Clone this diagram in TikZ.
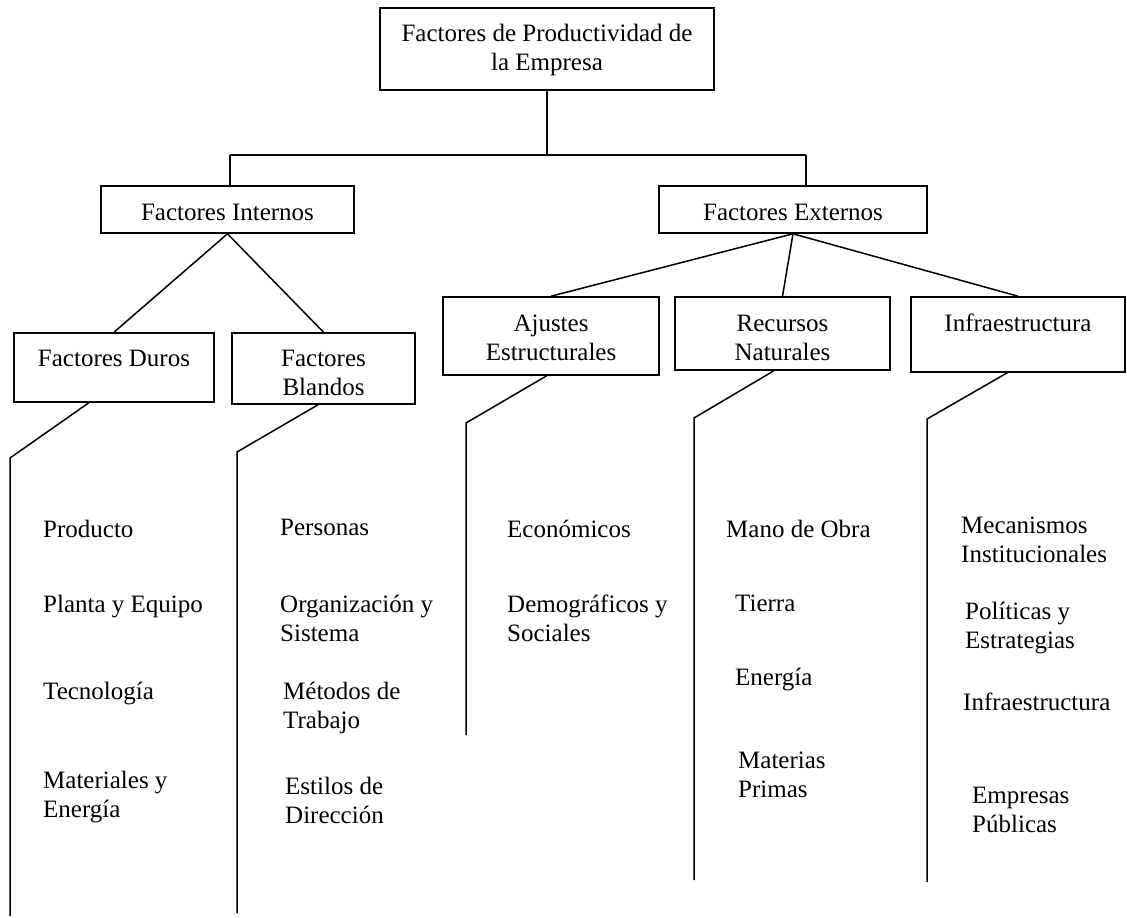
\documentclass[tikz,border=0pt]{standalone}
\usepackage{fontspec}
\setmainfont{Liberation Serif}
\usetikzlibrary{calc}
\newcommand{\dgfont}{\fontsize{25}{29}\selectfont}
\newcommand{\bxt}[1]{\begin{tabular}[t]{@{}c@{}}#1\end{tabular}}
\begin{document}
\begin{tikzpicture}[x=1pt,y=-1pt,
  box/.style={draw, line width=1.6pt, inner sep=0pt, align=center, font=\dgfont},
  item/.style={anchor=west, align=left, inner sep=0pt, font=\dgfont},
  conn/.style={line width=1.5pt}]
\useasboundingbox (0,0) rectangle (1127,918);
% boxes
\node[box, minimum width=334pt, text height=33pt, text depth=49pt] (top) at (547,49) {\bxt{Factores de Productividad de\\la Empresa}};
\node[box, minimum width=253pt, text height=34pt, text depth=13pt] (fi) at (227.5,209.5) {\bxt{Factores Internos}};
\node[box, minimum width=268pt, text height=34pt, text depth=13pt] (fe) at (793,209.5) {\bxt{Factores Externos}};
\node[box, minimum width=200pt, text height=33pt, text depth=36pt] (fd) at (114,367.5) {\bxt{Factores Duros}};
\node[box, minimum width=183pt, text height=33pt, text depth=38pt] (fb) at (323.5,368.5) {\bxt{Factores\\Blandos}};
\node[box, minimum width=216pt, text height=34pt, text depth=44pt] (ae) at (551,336) {\bxt{Ajustes\\Estructurales}};
\node[box, minimum width=215pt, text height=34pt, text depth=39pt] (rn) at (782.5,333.5) {\bxt{Recursos\\Naturales}};
\node[box, minimum width=214pt, text height=34pt, text depth=41pt] (inf) at (1018,334.5) {\bxt{Infraestructura}};
% upper connectors
\coordinate (jl) at (230,155);
\coordinate (jr) at (806,155);
\coordinate (jm) at (top.south |- jl);
\draw[conn] (top.south) -- (jm);
\draw[conn] (jl) -- (jr);
\draw[conn] (jl) -- (jl |- fi.north);
\draw[conn] (jr) -- (jr |- fe.north);
\draw[conn] (fi.south) -- (fd.north);
\draw[conn] (fi.south) -- (fb.north);
\draw[conn] (fe.south) -- (ae.north);
\draw[conn] (fe.south) -- (rn.north);
\draw[conn] (fe.south) -- (inf.north);
% lower connectors
\coordinate (fdk) at (10,458);  \coordinate (fde) at (10,916);
\coordinate (fbk) at (237,452); \coordinate (fbe) at (237,913);
\coordinate (aek) at (466,423); \coordinate (aee) at (466,735);
\coordinate (rnk) at (694,418); \coordinate (rne) at (694,880);
\coordinate (ink) at (927,419); \coordinate (ine) at (927,882);
\draw[conn] ($(fd.south west)!0.375!(fd.south east)$) -- (fdk) -- (fde);
\draw[conn] ($(fb.south west)!0.47!(fb.south east)$) -- (fbk) -- (fbe);
\draw[conn] ($(ae.south west)!0.48!(ae.south east)$) -- (aek) -- (aee);
\draw[conn] ($(rn.south west)!0.46!(rn.south east)$) -- (rnk) -- (rne);
\draw[conn] ($(inf.south west)!0.45!(inf.south east)$) -- (ink) -- (ine);
% items
\node[item] (d1) at (43,532) {Producto\strut};
\node[item] (d2) at (43,607) {Planta y Equipo\strut};
\node[item] (d3) at (43,694) {Tecnología\strut};
\node[item] (d4) at (43,797) {Materiales y\strut\\Energía\strut};
\node[item] (b1) at (280,530) {Personas\strut};
\node[item] (b2) at (280,621.5) {Organización y\strut\\Sistema\strut};
\node[item] (b3) at (283,708) {Métodos de\strut\\Trabajo\strut};
\node[item] (b4) at (285,803) {Estilos de\strut\\Dirección\strut};
\node[item] (a1) at (507,532) {Económicos\strut};
\node[item] (a2) at (507,621.5) {Demográficos y\strut\\Sociales\strut};
\node[item] (r1) at (726,532) {Mano de Obra\strut};
\node[item] (r2) at (735,606) {Tierra\strut};
\node[item] (r3) at (735,680) {Energía\strut};
\node[item] (r4) at (738,777) {Materias\strut\\Primas\strut};
\node[item] (i1) at (961,542) {Mecanismos\strut\\Institucionales\strut};
\node[item] (i2) at (965,628) {Políticas y\strut\\Estrategias\strut};
\node[item] (i3) at (963,705) {Infraestructura\strut};
\node[item] (i4) at (972,812) {Empresas\strut\\Públicas\strut};
\end{tikzpicture}
\end{document}
